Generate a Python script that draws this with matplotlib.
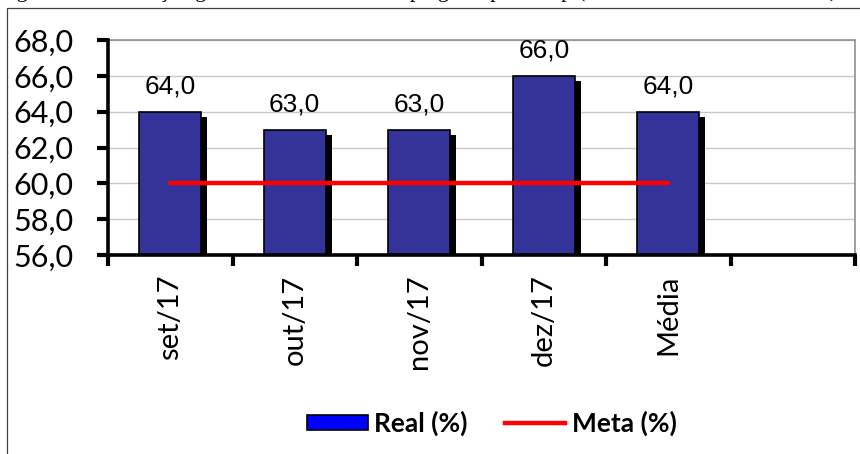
import matplotlib.pyplot as plt
import matplotlib.transforms as mtransforms
from matplotlib.patches import Rectangle, Patch
from matplotlib.lines import Line2D

meses = ["set/17", "out/17", "nov/17", "dez/17", "Média"]
real = [64.0, 63.0, 63.0, 66.0, 64.0]
meta = [60.0, 60.0, 60.0, 60.0, 60.0]
yticks = [56, 58, 60, 62, 64, 66, 68]
titulo = "Figura 11 – Evolução gráfica do índice de tempo gasto por setup (média do mês de referência)"

fig = plt.figure(figsize=(8.6, 4.54), dpi=100)

# moldura da figura e legenda cortada no topo
fig.add_artist(Rectangle((7 / 860, -0.1), 1.0, 1 - 8 / 454 + 0.1,
                         transform=fig.transFigure, fill=False,
                         edgecolor="#404040", lw=0.9))
fig.text(-2 / 860, 1 + 3.5 / 454, titulo,
         family="Liberation Serif", fontsize=16, va="baseline", ha="left")

ax = fig.add_axes([108 / 860, 1 - 255 / 454, (855 - 108) / 860, (255 - 40) / 454])

x = list(range(len(meses)))
w = 0.5
dx = 0.048
dy = 0.28
# sombra das barras
ax.bar([i + dx for i in x], [v - dy - 56 for v in real], bottom=56, width=w,
       color="black", zorder=2)
ax.bar(x, [v - 56 for v in real], bottom=56, width=w, color="#333399",
       edgecolor="black", linewidth=1.2, zorder=3)
ax.plot(x, meta, color="#ff0000", lw=3.2, solid_capstyle="round", zorder=4)

for i, v in zip(x, real):
    ax.text(i, v + 0.75, f"{v:.1f}".replace(".", ","), ha="center", va="bottom",
            family="Liberation Sans", fontsize=19)

ax.set_xlim(-0.5, 5.5)
ax.set_ylim(56, 68)
ax.set_yticks(yticks)
ax.set_yticklabels([f"{t:.1f}".replace(".", ",") for t in yticks],
                   family="Lato", fontsize=22)
off = mtransforms.ScaledTranslation(0, -10 / 100, fig.dpi_scale_trans)
for lab in ax.get_yticklabels():
    lab.set_transform(lab.get_transform() + off)

ax.set_xticks([i - 0.5 for i in range(7)])
ax.set_xticklabels([])
ax.set_xticks(x, minor=True)
ax.set_xticklabels(meses, minor=True, rotation=90, family="Lato", fontsize=21)
ax.tick_params(axis="x", which="minor", length=0, pad=14)
ax.tick_params(axis="both", which="major", length=8, width=3, direction="out")
ax.tick_params(axis="y", pad=17)

ax.grid(axis="y", color="#c8c8c8", lw=1, zorder=0)
ax.set_axisbelow(True)
for s in ["top", "right"]:
    ax.spines[s].set_color("#909090")
    ax.spines[s].set_linewidth(1.2)
for s in ["left", "bottom"]:
    ax.spines[s].set_linewidth(2.6)
    ax.spines[s].set_zorder(5)

handles = [Patch(facecolor="#0000ff", edgecolor="black", lw=1.2, label="Real (%)"),
           Line2D([], [], color="#ff0000", lw=3.2, label="Meta (%)")]
fig.legend(handles=handles, loc="center", bbox_to_anchor=(492 / 860, 1 - 423 / 454),
           ncol=2, frameon=False, handlelength=2.3, handleheight=0.5,
           handletextpad=0.25, columnspacing=1.4,
           prop={"family": "Lato", "weight": "bold", "size": 19})

fig.savefig("out.png", dpi=100)
